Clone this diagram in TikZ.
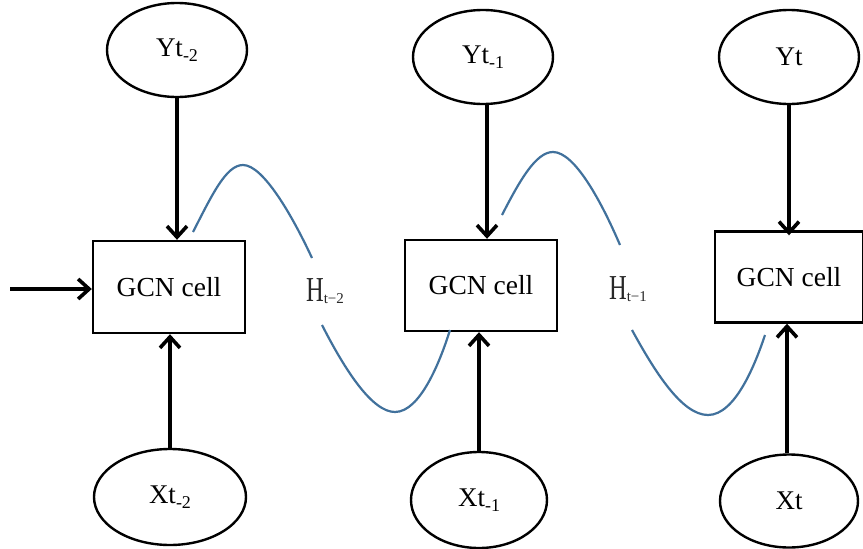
\documentclass[tikz,border=0pt]{standalone}
\usepackage{fontspec}
\setmainfont{Liberation Serif}
\usetikzlibrary{arrows.meta,shapes.geometric}
\definecolor{curveblue}{RGB}{65,113,156}
\definecolor{hgray}{RGB}{40,40,40}
\newcommand{\sublow}[1]{\raisebox{-0.35ex}{\fontsize{18}{18}\selectfont #1}}
\tikzset{
  ell/.style={draw, ellipse, line width=2.4pt, minimum width=140pt, minimum height=94pt, font=\fontsize{27}{30}\selectfont, inner sep=0pt},
  cell/.style={draw, rectangle, line width=2.4pt, font=\fontsize{27.5}{30}\selectfont, inner sep=0pt},
  arr/.style={line width=3.6pt, -{Straight Barb[length=11pt,width=20pt,line width=3.6pt]}},
  wave/.style={curveblue, line width=2.2pt},
  hlab/.style={hgray, inner sep=0pt}
}
\begin{document}
\begin{tikzpicture}[x=1pt,y=-1pt]
\useasboundingbox (0,0) rectangle (863,549);
% top ellipses
\node[ell] (y1) at (177,50) {Yt\sublow{-2}};
\node[ell] (y2) at (483,57) {Yt\sublow{-1}};
\node[ell] (y3) at (789,57) {Yt};
% boxes
\node[cell, minimum width=152pt, minimum height=92pt] (b1) at (169,287) {GCN cell};
\node[cell, minimum width=152pt, minimum height=91pt] (b2) at (481,285.5) {GCN cell};
\node[cell, minimum width=148pt, minimum height=91pt] (b3) at (789,277) {GCN cell};
% bottom ellipses
\node[ell, minimum width=152pt, minimum height=96pt] (x1) at (170,497) {Xt\sublow{-2}};
\node[ell, minimum width=136pt, minimum height=96pt] (x2) at (479,500) {Xt\sublow{-1}};
\node[ell, minimum width=138pt, minimum height=93pt] (x3) at (789,501) {Xt};
% H labels
\node[hlab] (h1) at (325,291) {\scalebox{0.7}[1]{\fontsize{35}{36}\selectfont H}\raisebox{-0.5ex}{\fontsize{15}{15}\selectfont t−2}};
\node[hlab] (h2) at (628,289) {\scalebox{0.7}[1]{\fontsize{35}{36}\selectfont H}\raisebox{-0.5ex}{\fontsize{15}{15}\selectfont t−1}};
% input arrow
\coordinate (in0) at (10,289);
\draw[arr] (in0) -- (b1.west |- in0);
% vertical arrows
\draw[arr] (y1.south) -- (y1.south |- b1.north);
\draw[arr] ([xshift=4pt]y2.south) -- ([xshift=4pt]y2.south |- b2.north);
\draw[arr] (y3.south) -- ([yshift=-5pt]y3.south |- b3.north);
\draw[arr] (x1.north) -- (x1.north |- b1.south);
\draw[arr] (x2.north) -- (x2.north |- b2.south);
\draw[arr] ([xshift=-2pt]x3.north) -- ([xshift=-2pt]x3.north |- b3.south);
% waves
\draw[wave] (193,232) .. controls (212,195) and (226,165) .. (243,165) .. controls (263,165) and (292,215) .. (312,258);
\draw[wave] (322,325) .. controls (345,370) and (372,412) .. (395,412) .. controls (420,412) and (440,362) .. (450,330);
\draw[wave] (502,215) .. controls (520,180) and (536,152) .. (553,152) .. controls (575,152) and (602,203) .. (620,245);
\draw[wave] (632,330) .. controls (655,372) and (682,415) .. (708,415) .. controls (735,415) and (755,365) .. (765,335);
\end{tikzpicture}
\end{document}
